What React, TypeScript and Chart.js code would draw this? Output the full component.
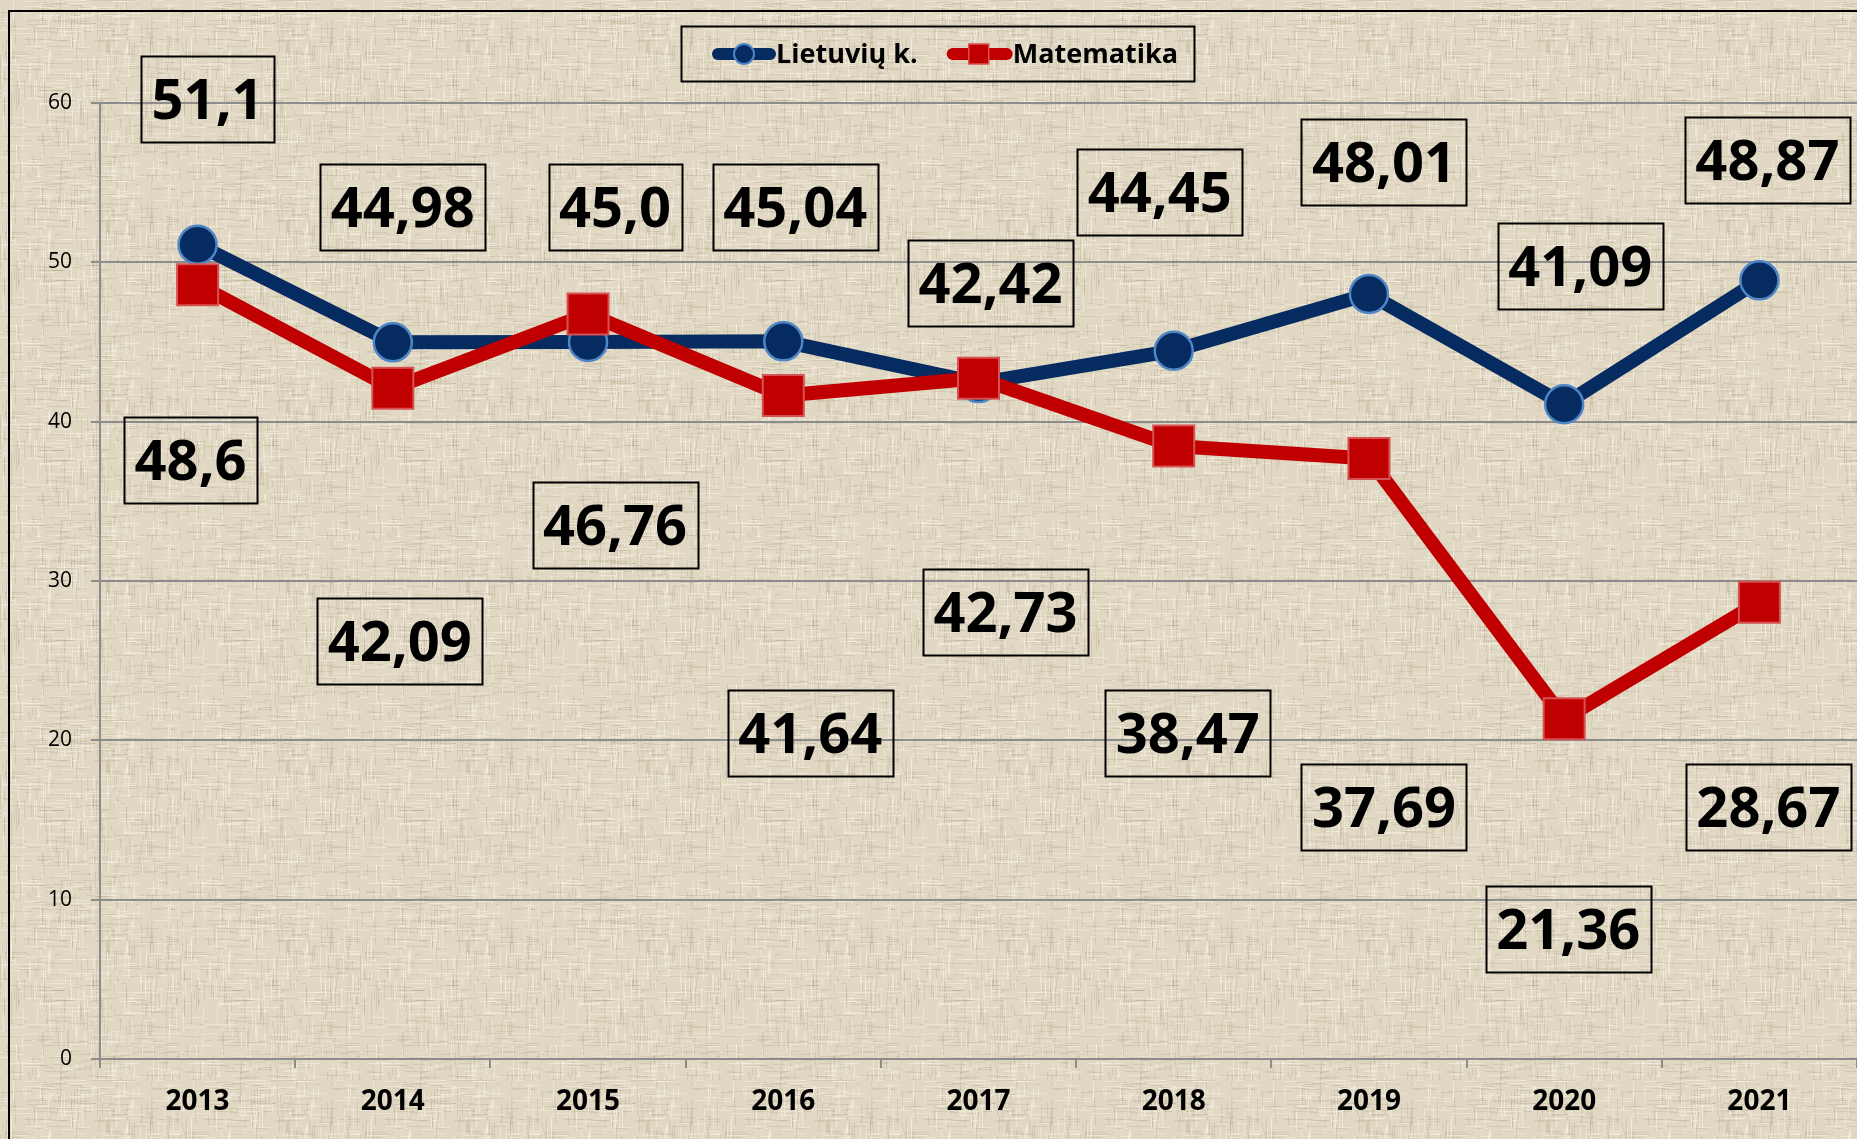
import React, { useEffect, useRef } from 'react';
import { Chart, registerables } from 'chart.js';

Chart.register(...registerables);

// ---- data ----
const years = ['2013', '2014', '2015', '2016', '2017', '2018', '2019', '2020', '2021'];
const lietuviu = [51.1, 44.98, 45.0, 45.04, 42.42, 44.45, 48.01, 41.09, 48.87];
const lietuviuDecimals = [1, 2, 1, 2, 2, 2, 2, 2, 2];
const matematika = [48.6, 42.09, 46.76, 41.64, 42.73, 38.47, 37.69, 21.36, 28.67];
const matematikaDecimals = [1, 2, 2, 2, 2, 2, 2, 2, 2];
const seriesNames = ['Lietuvių k.', 'Matematika'];
const yMin = 0;
const yMax = 60;
const yStep = 10;

// ---- label layout (pixel x offset from category centre, label centre in axis units) ----
const lietuviuLabelDx = [10, 10, 27, 12, 12, -14, 15, 16, 8];
const lietuviuLabelY = [60.28, 53.47, 53.47, 53.47, 48.7, 54.42, 56.3, 49.77, 56.42];
const matematikaLabelDx = [-7, 7, 27, 27, 27, 14, 15, 4, 9];
const matematikaLabelY = [37.6, 26.24, 33.52, 20.46, 28.05, 20.46, 15.82, 8.16, 15.82];

const BLUE = '#062b61';
const BLUE_EDGE = '#4f86c6';
const RED = '#c00000';
const RED_EDGE = '#d65252';
const GRID = '#8c8c8c';
const FONT = '"Open Sans", "Noto Sans", sans-serif';

const fmt = (v: number, d: number) => v.toFixed(d).replace('.', ',');

function makePattern(ctx: CanvasRenderingContext2D) {
  const c = document.createElement('canvas');
  c.width = 180;
  c.height = 180;
  const g = c.getContext('2d')!;
  g.fillStyle = '#e1d8c4';
  g.fillRect(0, 0, 180, 180);
  let s = 987654;
  const rnd = () => {
    s = (s * 1103515245 + 12345) & 0x7fffffff;
    return s / 0x7fffffff;
  };
  for (let i = 0; i < 900; i++) {
    const x = Math.floor(rnd() * 180);
    const y = Math.floor(rnd() * 180);
    const len = 3 + rnd() * 22;
    const dark = rnd() < 0.5;
    g.fillStyle = dark ? 'rgba(140,125,95,0.16)' : 'rgba(250,246,234,0.45)';
    if (rnd() < 0.5) g.fillRect(x, y, len, 1);
    else g.fillRect(x, y, 1, len);
  }
  return ctx.createPattern(c, 'repeat');
}

const backgroundPlugin = {
  id: 'bgTexture',
  beforeDraw(chart: any) {
    const ctx = chart.ctx as CanvasRenderingContext2D;
    ctx.save();
    const p = makePattern(ctx);
    ctx.fillStyle = p || '#e1d8c4';
    ctx.fillRect(0, 0, chart.width, chart.height);
    ctx.strokeStyle = '#000';
    ctx.lineWidth = 2;
    ctx.strokeRect(9, 11, chart.width + 50, chart.height + 50);
    ctx.restore();
  },
};

function drawLabels(chart: any, values: number[], decs: number[], dxs: number[], lys: number[]) {
  const ctx = chart.ctx as CanvasRenderingContext2D;
  const xs = chart.scales.x;
  const ys = chart.scales.y;
  const size = 56;
  ctx.font = `bold ${size}px ${FONT}`;
  values.forEach((v, i) => {
    const txt = fmt(v, decs[i]);
    const cx = xs.getPixelForValue(i) + dxs[i];
    const cy = ys.getPixelForValue(lys[i]);
    const tw = ctx.measureText(txt).width;
    const w = tw + 21;
    const h = 86;
    ctx.lineWidth = 2;
    ctx.strokeStyle = '#000';
    ctx.strokeRect(Math.round(cx - w / 2) + 0.5, Math.round(cy - h / 2) + 0.5, Math.round(w), h);
    ctx.fillStyle = '#000';
    ctx.textAlign = 'center';
    ctx.textBaseline = 'alphabetic';
    ctx.fillText(txt, cx, cy + size * 0.36);
  });
}

const labelsPlugin = {
  id: 'valueBoxes',
  afterDatasetsDraw(chart: any) {
    const ctx = chart.ctx as CanvasRenderingContext2D;
    ctx.save();
    drawLabels(chart, lietuviu, lietuviuDecimals, lietuviuLabelDx, lietuviuLabelY);
    drawLabels(chart, matematika, matematikaDecimals, matematikaLabelDx, matematikaLabelY);
    ctx.restore();
  },
};

const legendPlugin = {
  id: 'customLegend',
  afterDraw(chart: any) {
    const ctx = chart.ctx as CanvasRenderingContext2D;
    ctx.save();
    const bx = 681, by = 26, bw = 513, bh = 55;
    ctx.strokeStyle = '#000';
    ctx.lineWidth = 2;
    ctx.strokeRect(bx + 0.5, by + 0.5, bw, bh);
    const cy = by + bh / 2 + 0.5;
    ctx.font = `bold 27px ${FONT}`;
    ctx.textBaseline = 'middle';
    ctx.textAlign = 'left';
    let x = bx + 31;
    // series 1
    ctx.strokeStyle = BLUE;
    ctx.lineWidth = 12;
    ctx.lineCap = 'round';
    ctx.beginPath();
    ctx.moveTo(x + 6, cy);
    ctx.lineTo(x + 58, cy);
    ctx.stroke();
    ctx.beginPath();
    ctx.arc(x + 32, cy, 10, 0, Math.PI * 2);
    ctx.fillStyle = BLUE;
    ctx.fill();
    ctx.lineWidth = 2;
    ctx.strokeStyle = BLUE_EDGE;
    ctx.stroke();
    x += 64;
    ctx.fillStyle = '#000';
    ctx.fillText(seriesNames[0], x, cy + 1);
    x += ctx.measureText(seriesNames[0]).width + 29;
    // series 2
    ctx.strokeStyle = RED;
    ctx.lineWidth = 12;
    ctx.beginPath();
    ctx.moveTo(x + 6, cy);
    ctx.lineTo(x + 60, cy);
    ctx.stroke();
    ctx.fillStyle = RED;
    ctx.fillRect(x + 22, cy - 10, 20, 20);
    ctx.lineWidth = 1.5;
    ctx.strokeStyle = RED_EDGE;
    ctx.strokeRect(x + 22, cy - 10, 20, 20);
    x += 66;
    ctx.fillStyle = '#000';
    ctx.fillText(seriesNames[1], x, cy + 1);
    ctx.restore();
  },
};

export default function App() {
  const ref = useRef<HTMLCanvasElement | null>(null);
  useEffect(() => {
    if (!ref.current) return;
    const chart = new Chart(ref.current, {
      type: 'line',
      data: {
        labels: years,
        datasets: [
          {
            label: seriesNames[0],
            data: lietuviu,
            order: 1,
            borderColor: BLUE,
            borderWidth: 14,
            pointStyle: 'circle',
            pointRadius: 19,
            pointBorderWidth: 2.5,
            pointBackgroundColor: BLUE,
            pointBorderColor: BLUE_EDGE,
            tension: 0,
            fill: false,
          },
          {
            label: seriesNames[1],
            data: matematika,
            order: 0,
            borderColor: RED,
            borderWidth: 14,
            pointStyle: 'rect',
            pointRadius: 29,
            pointBorderWidth: 2,
            pointBackgroundColor: RED,
            pointBorderColor: RED_EDGE,
            tension: 0,
            fill: false,
          },
        ],
      },
      options: {
        responsive: false,
        animation: false,
        devicePixelRatio: 1,
        layout: { autoPadding: false, padding: { top: 103, left: 0, right: 0, bottom: 0 } },
        plugins: {
          legend: { display: false },
          tooltip: { enabled: false },
        },
        scales: {
          x: {
            type: 'category',
            offset: true,
            afterFit: (s: any) => {
              s.height = 80;
              s.paddingLeft = 0;
              s.paddingRight = 0;
            },
            grid: {
              display: true,
              drawOnChartArea: false,
              drawTicks: true,
              tickLength: 9,
              color: GRID,
              lineWidth: 2,
              offset: true,
            },
            border: { display: true, color: GRID, width: 2 },
            ticks: {
              color: '#000',
              padding: 17,
              maxRotation: 0,
              font: { family: FONT, size: 28, weight: 'bold' },
            },
          },
          y: {
            min: yMin,
            max: yMax,
            afterFit: (s: any) => {
              s.width = 100;
              s.paddingTop = 0;
              s.paddingBottom = 0;
            },
            grid: {
              color: GRID,
              lineWidth: 2,
              drawTicks: true,
              tickLength: 9,
            },
            border: { display: true, color: GRID, width: 2 },
            ticks: {
              stepSize: yStep,
              color: '#000',
              padding: 19,
              font: { family: FONT, size: 21 },
            },
          },
        },
      },
      plugins: [backgroundPlugin, labelsPlugin, legendPlugin],
    } as any);
    return () => chart.destroy();
  }, []);
  return (
    <div style={{ position: 'fixed', left: 0, top: 0, width: 1857, height: 1139 }}>
      <canvas ref={ref} width={1857} height={1139} style={{ display: 'block', width: 1857, height: 1139 }} />
    </div>
  );
}
